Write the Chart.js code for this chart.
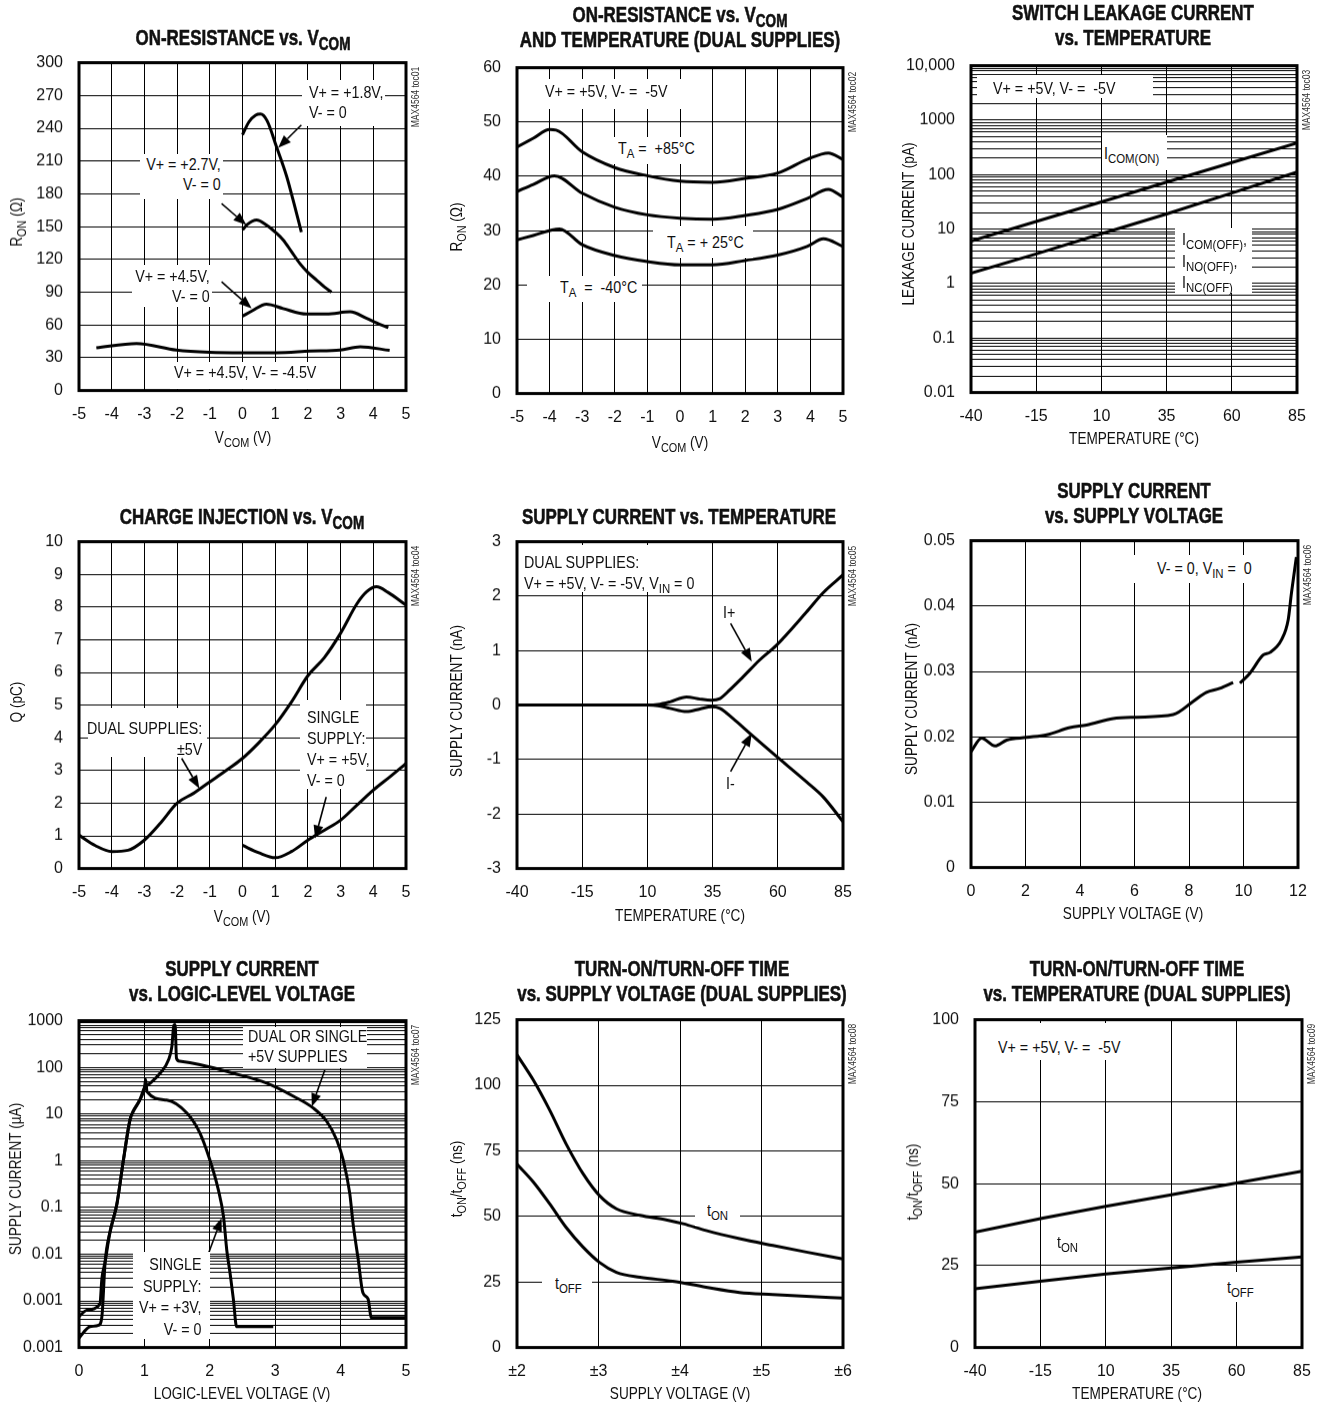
<!DOCTYPE html>
<html><head><meta charset="utf-8">
<script src="https://cdn.jsdelivr.net/npm/chart.js@4.4.1/dist/chart.umd.min.js"></script>
<style>
body{margin:0;background:#fff;width:1322px;height:1406px;position:relative;overflow:hidden;font-family:"Liberation Sans",Arial,sans-serif;color:#111}
canvas{position:absolute;z-index:1}
.bx{position:absolute;background:#fff;z-index:2}
.tx{position:absolute;font-size:17px;line-height:20px;white-space:nowrap;z-index:3;transform:scaleX(0.84);transform-origin:0 0}
.tx.r{transform-origin:100% 0;text-align:right}
.ti{position:absolute;font-weight:bold;font-size:22px;line-height:25px;text-align:center;white-space:nowrap;transform:translateX(-50%) scaleX(0.77);z-index:3;-webkit-text-stroke:0.6px #111}
.xt{position:absolute;font-size:17px;line-height:20px;white-space:nowrap;transform:translateX(-50%) scaleX(0.8);z-index:3}
.yt{position:absolute;font-size:17px;line-height:20px;white-space:nowrap;transform:translate(-50%,-50%) rotate(-90deg) scaleX(0.8);z-index:3}
.st{position:absolute;font-size:10px;line-height:11px;white-space:nowrap;transform:translate(-50%,-50%) rotate(-90deg) scaleX(0.85);z-index:3;color:#333}
sub{font-size:0.8em;vertical-align:-0.3em;line-height:0}
</style></head><body>
<script>
// ---------- DATA ----------
// Panel 1: On-resistance vs VCOM
const p1_x18 = [0, 0.2, 0.4, 0.55, 0.75, 1.04, 1.35, 1.55, 1.8];
const p1_y18 = [234, 246, 252, 253, 247, 223, 196, 174, 145];
const p1_x27 = [0, 0.15, 0.43, 0.73, 1.0, 1.24, 1.5, 1.76, 2.0, 2.27, 2.5, 2.72];
const p1_y27 = [147, 152, 156, 151.5, 145, 138, 127, 116, 108, 101, 95, 90];
const p1_x45 = [0, 0.3, 0.73, 1.24, 1.96, 2.57, 3.29, 3.8, 4.1, 4.46];
const p1_y45 = [68, 73, 79, 75, 70, 70, 72, 66, 62, 57.5];
const p1_xDual = [-4.47, -3.24, -2.02, -1, 0, 1.04, 2.06, 2.98, 3.6, 4.5];
const p1_yDual = [39, 43, 37, 35, 34.6, 34.6, 36, 37, 40, 36.7];
const p1_xTicks = [-5,-4,-3,-2,-1,0,1,2,3,4,5];
const p1_yTicks = [0,30,60,90,120,150,180,210,240,270,300];

// Panel 2: On-resistance vs VCOM and temperature
const p2_x85 = [-5,-4.5,-4,-3.8,-3,-2,-1,0,1,2,3,3.9,4.55,5];
const p2_y85 = [45.4,47,48.6,48.5,44.5,41.6,40.1,39.1,38.9,39.6,40.6,43.1,44.3,43.1];
const p2_x25 = [-5,-4.5,-3.85,-3,-2,-1,0,1,2,3,3.9,4.55,5];
const p2_y25 = [37.2,38.5,40.1,36.9,34.3,32.9,32.3,32.1,32.8,33.9,35.9,37.6,36.2];
const p2_xM40 = [-5,-4.5,-3.7,-3,-2,-1,0,1,2,3,3.9,4.4,5];
const p2_yM40 = [28.3,29.1,30.3,27.4,25.4,24.3,23.7,23.7,24.5,25.5,27.1,28.5,27.1];
const p2_xTicks = [-5,-4,-3,-2,-1,0,1,2,3,4,5];
const p2_yTicks = [0,10,20,30,40,50,60];

// Panel 3: Switch leakage current vs temperature
const p3_x = [-40,-15,10,35,60,85];
const p3_yOn = [6,13.8,31.6,73,166,383];
const p3_yOff = [1.55,3.5,8.2,19,46,112];
const p3_xTicks = [-40,-15,10,35,60,85];
const p3_yDecades = [0.01,0.1,1,10,100,1000,10000];
const p3_yLabels = ['0.01','0.1','1','10','100','1000','10,000'];

// Panel 4: Charge injection vs VCOM
const p4_xDual = [-5,-4.5,-4,-3.5,-3,-2.5,-2,-1.5,-1,-0.5,0,0.5,1,1.5,2,2.5,3,3.5,3.8,4.1,4.45,5];
const p4_yDual = [1.02,0.7,0.52,0.56,0.87,1.4,2.0,2.3,2.65,3.0,3.37,3.85,4.4,5.1,5.9,6.45,7.2,8.1,8.47,8.62,8.45,8.06];
const p4_xSingle = [0,0.5,1,1.5,2,2.5,3,3.5,4,4.5,5];
const p4_ySingle = [0.71,0.48,0.33,0.52,0.87,1.17,1.48,1.94,2.4,2.8,3.21];
const p4_xTicks = [-5,-4,-3,-2,-1,0,1,2,3,4,5];
const p4_yTicks = [0,1,2,3,4,5,6,7,8,9,10];

// Panel 5: Supply current vs temperature
const p5_xPlus = [-40,-15,10,14,18.7,25,30.2,34.6,37.8,41.6,46.7,53.1,59.5,71,77.3,85];
const p5_yPlus = [0,0,0,0.01,0.06,0.15,0.11,0.09,0.12,0.28,0.52,0.83,1.1,1.71,2.06,2.39];
const p5_xMinus = [-40,-15,10,14,18.7,25,30.2,34.6,37.8,42.9,49.3,58.2,71,77.3,85];
const p5_yMinus = [0,0,0,-0.01,-0.06,-0.12,-0.07,-0.03,-0.06,-0.25,-0.52,-0.89,-1.41,-1.68,-2.14];
const p5_xTicks = [-40,-15,10,35,60,85];
const p5_yTicks = [-3,-2,-1,0,1,2,3];

// Panel 6: Supply current vs supply voltage
const p6_x = [0,0.39,0.88,1.31,2.04,2.78,3.63,4.24,5.22,6.08,7.42,8.15,8.64,9.13,9.62,9.75,9.87,10.23,10.72,10.97,11.39,11.64,11.76,11.94];
const p6_y = [0.0177,0.0198,0.0186,0.0195,0.0199,0.0203,0.0214,0.0218,0.0228,0.0230,0.0234,0.0254,0.0268,0.0274,0.0283,null,0.0282,0.0297,0.0325,0.0329,0.0348,0.0379,0.042,0.0475];
const p6_xTicks = [0,2,4,6,8,10,12];
const p6_yTicks = [0,0.01,0.02,0.03,0.04,0.05];

// Panel 7: Supply current vs logic-level voltage
const p7_x5V = [0,0.12,0.32,0.35,0.4,0.47,0.58,0.68,0.78,0.83,0.93,1.0,1.09,1.24,1.37,1.42,1.45,1.47,1.49,1.54,1.85,2.36,2.87,3.28,3.58,3.79,3.94,4.04,4.14,4.19,4.27,4.34,4.42,4.47,5];
const p7_y5V = [0.00046,0.00063,0.00086,0.003,0.0069,0.028,0.12,1.05,7.6,11.5,20,36,46,75,146,280,800,820,158,135,114,75,46,24,13.5,6.9,2.8,1.04,0.2,0.046,0.0076,0.0015,0.0011,0.00044,0.00044];
const p7_x3V = [0,0.17,0.3,0.35,0.4,0.47,0.58,0.68,0.78,0.83,0.93,1.0,1.02,1.04,1.34,1.65,1.85,2.0,2.13,2.21,2.26,2.31,2.36,2.41,2.97];
const p7_y3V = [0.00016,0.00028,0.0003,0.00046,0.0069,0.028,0.12,1.05,7.6,11.5,20,36,55,30,20,10.5,3.9,1.05,0.24,0.063,0.012,0.0039,0.0011,0.00028,0.00028];
const p7_xTicks = [0,1,2,3,4,5];
const p7_yDecades = [0.0001,0.001,0.01,0.1,1,10,100,1000];
const p7_yLabels = ['0.001','0.001','0.01','0.1','1','10','100','1000'];

// Panel 8: Turn-on/turn-off time vs supply voltage
const p8_xOn = [2,2.2,2.4,2.6,2.81,3.01,3.22,3.51,3.83,4.04,4.32,4.73,5.14,5.55,6];
const p8_yOn = [111.6,102,90.6,77.8,66.3,58,52.9,50.4,48.7,47.2,44.6,41.5,38.9,36.4,33.8];
const p8_xOff = [2,2.2,2.4,2.6,2.81,3.01,3.22,3.51,3.91,4.32,4.73,5.14,5.55,6];
const p8_yOff = [69.9,63.1,54.8,45.9,38.3,32.5,28.7,26.8,25.3,23,21,20.2,19.5,18.9];
const p8_xTicks = [2,3,4,5,6];
const p8_xLabels = ['±2','±3','±4','±5','±6'];
const p8_yTicks = [0,25,50,75,100,125];

// Panel 9: Turn-on/turn-off time vs temperature
const p9_x = [-40,-15,10,35,60,85];
const p9_yOn = [35.2,39.3,43.1,46.6,50.2,53.8];
const p9_yOff = [17.9,20.2,22.4,24.3,26.0,27.6];
const p9_xTicks = [-40,-15,10,35,60,85];
const p9_yTicks = [0,25,50,75,100];

// ---------- RENDERING ----------
const FONT = '"Liberation Sans", Arial, sans-serif';
Chart.defaults.font.family = FONT;
Chart.defaults.color = '#111';

const framePlugin = {id:'frame', afterDraw(chart){
  const a = chart.chartArea, c = chart.ctx;
  c.save(); c.strokeStyle = '#000'; c.lineWidth = 3;
  c.strokeRect(a.left, a.top, a.right - a.left, a.bottom - a.top); c.restore();
}};
const arrowPlugin = {id:'arrows', afterDatasetsDraw(chart, args, opts){
  const list = (opts && opts.list) || [];
  const xs = chart.scales.x, ys = chart.scales.y, c = chart.ctx;
  c.save(); c.strokeStyle = '#000'; c.fillStyle = '#000'; c.lineWidth = 1.6;
  list.forEach(a => {
    const x1 = xs.getPixelForValue(a[0]), y1 = ys.getPixelForValue(a[1]);
    const x2 = xs.getPixelForValue(a[2]), y2 = ys.getPixelForValue(a[3]);
    const ang = Math.atan2(y2 - y1, x2 - x1), L = 13, W = 5;
    const bx = x2 - L * Math.cos(ang), by = y2 - L * Math.sin(ang);
    c.beginPath(); c.moveTo(x1, y1); c.lineTo(bx, by); c.stroke();
    c.beginPath(); c.moveTo(x2, y2);
    c.lineTo(bx + W * Math.sin(ang), by - W * Math.cos(ang));
    c.lineTo(bx - W * Math.sin(ang), by + W * Math.cos(ang));
    c.closePath(); c.fill();
  });
  c.restore();
}};

function logTicks(decades){
  const out = [];
  for (let i = 0; i < decades.length - 1; i++) for (let k = 1; k <= 9; k++) out.push(+(decades[i] * k).toPrecision(6));
  out.push(decades[decades.length - 1]);
  return out;
}
function linAxis(ticks, labels){
  return {min: ticks[0], max: ticks[ticks.length - 1], ticks: ticks,
    label: (v, i) => labels ? labels[i] : String(ticks[i])};
}
function logAxis(decades, labels){
  return {log: true, min: decades[0], max: decades[decades.length - 1], ticks: logTicks(decades),
    label: (v) => { const j = decades.findIndex(d => Math.abs(Math.log10(d) - Math.log10(v)) < 1e-6); return j >= 0 ? labels[j] : ''; }};
}

function panel(p){
  const YW = 70, PT = 14, PR = 26, XH = 44;
  const W = p.R - p.L, H = p.B - p.T;
  const cv = document.createElement('canvas');
  cv.width = YW + W + PR; cv.height = PT + H + XH;
  cv.style.left = (p.L - YW) + 'px'; cv.style.top = (p.T - PT) + 'px';
  document.body.appendChild(cv);
  const axis = (ax, isY) => ({
    type: ax.log ? 'logarithmic' : 'linear', min: ax.min, max: ax.max,
    afterBuildTicks(s){ s.ticks = ax.ticks.map(v => ({value: v})); },
    afterFit(s){ if (isY) s.width = YW; else s.height = XH; },
    ticks: {autoSkip: false, maxRotation: 0, minRotation: 0, padding: isY ? 16 : 14, color: '#111',
      font: {size: 16, family: FONT}, callback: (v, i) => ax.label(v, i)},
    grid: {color: '#000', lineWidth: 1, drawTicks: false},
    border: {display: false}
  });
  const ch = new Chart(cv, {
    type: 'line',
    data: {datasets: p.series.map(s => ({
      data: s.x.map((x, i) => ({x: x, y: s.y[i]})),
      borderColor: '#000', borderWidth: 3, pointRadius: 0, fill: false,
      tension: s.straight ? 0 : 0.4, cubicInterpolationMode: s.straight ? 'default' : 'monotone', spanGaps: false
    }))},
    options: {
      responsive: false, maintainAspectRatio: false, animation: false, events: [], devicePixelRatio: 1,
      layout: {padding: {top: PT, right: PR, left: 0, bottom: 0}},
      scales: {x: axis(p.x, false), y: axis(p.y, true)},
      plugins: {legend: {display: false}, tooltip: {enabled: false}, arrows: {list: p.arrows || []}}
    },
    plugins: [arrowPlugin, framePlugin]
  });
  // make the plot area exactly W x H at (L, T)
  for (let k = 0; k < 2; k++) {
    const a = ch.chartArea;
    const nw = ch.width + (W - (a.right - a.left)), nh = ch.height + (H - (a.bottom - a.top));
    if (nw !== ch.width || nh !== ch.height) ch.resize(nw, nh);
  }
  const a = ch.chartArea;
  cv.style.left = (p.L - a.left) + 'px'; cv.style.top = (p.T - a.top) + 'px';
  el('div', 'st', p.stamp, {left: (p.R + 9) + 'px', top: (p.T + 34) + 'px'});
}
function el(tag, cls, html, style){
  const d = document.createElement(tag); d.className = cls; d.innerHTML = html;
  Object.assign(d.style, style); document.body.appendChild(d); return d;
}
function box(x1, y1, x2, y2){ el('div', 'bx', '', {left: x1 + 'px', top: y1 + 'px', width: (x2 - x1) + 'px', height: (y2 - y1) + 'px'}); }
function txt(html, align, x, y, lh){
  const s = {top: y + 'px'};
  if (align === 'r') s.right = (1322 - x) + 'px'; else s.left = x + 'px';
  if (lh) s.lineHeight = lh + 'px';
  el('div', align === 'r' ? 'tx r' : 'tx', html, s);
}
function title(html, cx, top){ el('div', 'ti', html, {left: cx + 'px', top: top + 'px'}); }
function xtitle(html, cx, top){ el('div', 'xt', html, {left: cx + 'px', top: top + 'px'}); }
function ytitle(html, cx, cy){ el('div', 'yt', html, {left: cx + 'px', top: cy + 'px'}); }

// Panel 1
panel({L: 79, T: 63, R: 406, B: 390, stamp: 'MAX4564 toc01',
  x: linAxis(p1_xTicks), y: linAxis(p1_yTicks),
  series: [{x: p1_x18, y: p1_y18}, {x: p1_x27, y: p1_y27}, {x: p1_x45, y: p1_y45}, {x: p1_xDual, y: p1_yDual}],
  arrows: [[1.8, 243, 1.09, 222], [-0.64, 171, 0.12, 151.5], [-0.64, 99.5, 0.28, 75]]});
title('ON-RESISTANCE vs. V<sub>COM</sub>', 243, 25);
xtitle('V<sub>COM</sub> (V)', 243, 428);
ytitle('R<sub>ON</sub> (Ω)', 17, 222);
box(302, 80, 385, 126); txt('V+ = +1.8V,<br>V- = 0', 'l', 309, 83);
box(140, 154, 223, 199); txt('V+ = +2.7V,<br>V- = 0', 'r', 221, 155);
box(132, 265, 212, 307); txt('V+ = +4.5V,<br>V- = 0', 'r', 210, 267);
box(170, 362, 320, 389); txt('V+ = +4.5V, V- = -4.5V', 'l', 174, 363);

// Panel 2
panel({L: 517, T: 68, R: 843, B: 393, stamp: 'MAX4564 toc02',
  x: linAxis(p2_xTicks), y: linAxis(p2_yTicks),
  series: [{x: p2_x85, y: p2_y85}, {x: p2_x25, y: p2_y25}, {x: p2_xM40, y: p2_yM40}]});
title('ON-RESISTANCE vs. V<sub>COM</sub><br>AND TEMPERATURE (DUAL SUPPLIES)', 680, 2);
xtitle('V<sub>COM</sub> (V)', 680, 433);
ytitle('R<sub>ON</sub> (Ω)', 457, 227);
box(540, 79, 690, 109); txt('V+ = +5V, V- = &nbsp;-5V', 'l', 545, 82);
box(612, 137, 697, 164); txt('T<sub>A</sub> = &nbsp;+85°C', 'l', 618, 139);
box(653, 226, 753, 258); txt('T<sub>A</sub> = + 25°C', 'l', 667, 233);
box(527, 276, 642, 302); txt('T<sub>A</sub> &nbsp;= &nbsp;-40°C', 'l', 560, 278);

// Panel 3
panel({L: 971, T: 66, R: 1297, B: 392, stamp: 'MAX4564 toc03',
  x: linAxis(p3_xTicks), y: logAxis(p3_yDecades, p3_yLabels),
  series: [{x: p3_x, y: p3_yOn, straight: true}, {x: p3_x, y: p3_yOff, straight: true}]});
title('SWITCH LEAKAGE CURRENT<br>vs. TEMPERATURE', 1133, 0);
xtitle('TEMPERATURE (°C)', 1134, 429);
ytitle('LEAKAGE CURRENT (pA)', 909, 224);
box(977, 75, 1153, 98); txt('V+ = +5V, V- = &nbsp;-5V', 'l', 993, 79);
box(1102, 135, 1167, 170); txt('I<sub>COM(ON)</sub>', 'l', 1104, 144);
box(1175, 228, 1252, 293); txt('I<sub>COM(OFF)</sub>,<br>I<sub>NO(OFF)</sub>,<br>I<sub>NC(OFF)</sub>', 'l', 1182, 229, 21.5);

// Panel 4
panel({L: 79, T: 542, R: 406, B: 868, stamp: 'MAX4564 toc04',
  x: linAxis(p4_xTicks), y: linAxis(p4_yTicks),
  series: [{x: p4_xDual, y: p4_yDual}, {x: p4_xSingle, y: p4_ySingle}],
  arrows: [[-1.86, 3.37, -1.32, 2.45], [2.56, 2.19, 2.22, 0.92]]});
title('CHARGE INJECTION vs. V<sub>COM</sub>', 242, 504);
xtitle('V<sub>COM</sub> (V)', 242, 907);
ytitle('Q (pC)', 17, 702);
box(88, 708, 207, 757); txt('DUAL SUPPLIES:<br>±5V', 'r', 202, 718, 21);
box(300, 700, 366, 789); txt('SINGLE<br>SUPPLY:<br>V+ = +5V,<br>V- = 0', 'l', 307, 707, 21);

// Panel 5
panel({L: 517, T: 542, R: 843, B: 868, stamp: 'MAX4564 toc05',
  x: linAxis(p5_xTicks), y: linAxis(p5_yTicks),
  series: [{x: p5_xPlus, y: p5_yPlus}, {x: p5_xMinus, y: p5_yMinus}],
  arrows: [[41.9, 1.5, 50, 0.8], [41.9, -1.22, 50, -0.52]]});
title('SUPPLY CURRENT vs. TEMPERATURE', 679, 504);
xtitle('TEMPERATURE (°C)', 680, 906);
ytitle('SUPPLY CURRENT (nA)', 457, 701);
box(520, 545, 700, 592); txt('DUAL SUPPLIES:<br>V+ = +5V, V- = -5V, V<sub>IN</sub> = 0', 'l', 524, 552, 21);
txt('I+', 'l', 723, 603);
txt('I-', 'l', 726, 774);

// Panel 6
panel({L: 971, T: 541, R: 1298, B: 867, stamp: 'MAX4564 toc06',
  x: linAxis(p6_xTicks), y: linAxis(p6_yTicks),
  series: [{x: p6_x, y: p6_y}]});
title('SUPPLY CURRENT<br>vs. SUPPLY VOLTAGE', 1134, 478);
xtitle('SUPPLY VOLTAGE (V)', 1133, 904);
ytitle('SUPPLY CURRENT (nA)', 912, 699);
box(1131, 555, 1256, 583); txt('V- = 0, V<sub>IN</sub> = &nbsp;0', 'l', 1157, 559);

// Panel 7
panel({L: 79, T: 1021, R: 406, B: 1347, stamp: 'MAX4564 toc07',
  x: linAxis(p7_xTicks), y: logAxis(p7_yDecades, p7_yLabels),
  series: [{x: p7_x5V, y: p7_y5V}, {x: p7_x3V, y: p7_y3V}],
  arrows: [[3.76, 89, 3.56, 14.5], [1.98, 0.0104, 2.18, 0.059]]});
title('SUPPLY CURRENT<br>vs. LOGIC-LEVEL VOLTAGE', 242, 956);
xtitle('LOGIC-LEVEL VOLTAGE (V)', 242, 1384);
ytitle('SUPPLY CURRENT (µA)', 16, 1179);
box(243, 1027, 367, 1068); txt('DUAL OR SINGLE<br>+5V SUPPLIES', 'l', 248, 1027, 20);
box(133, 1252, 210, 1339); txt('SINGLE<br>SUPPLY:<br>V+ = +3V,<br>V- = 0', 'r', 202, 1254, 21.5);

// Panel 8
panel({L: 517, T: 1020, R: 843, B: 1347, stamp: 'MAX4564 toc08',
  x: linAxis(p8_xTicks, p8_xLabels), y: linAxis(p8_yTicks),
  series: [{x: p8_xOn, y: p8_yOn}, {x: p8_xOff, y: p8_yOff}]});
title('TURN-ON/TURN-OFF TIME<br>vs. SUPPLY VOLTAGE (DUAL SUPPLIES)', 682, 956);
xtitle('SUPPLY VOLTAGE (V)', 680, 1384);
ytitle('t<sub>ON</sub>/t<sub>OFF</sub> (ns)', 457, 1179);
box(695, 1199, 740, 1226); txt('t<sub>ON</sub>', 'l', 707, 1201);
box(542, 1271, 592, 1298); txt('t<sub>OFF</sub>', 'l', 555, 1274);

// Panel 9
panel({L: 975, T: 1020, R: 1302, B: 1347, stamp: 'MAX4564 toc09',
  x: linAxis(p9_xTicks), y: linAxis(p9_yTicks),
  series: [{x: p9_x, y: p9_yOn, straight: true}, {x: p9_x, y: p9_yOff, straight: true}]});
title('TURN-ON/TURN-OFF TIME<br>vs. TEMPERATURE (DUAL SUPPLIES)', 1137, 956);
xtitle('TEMPERATURE (°C)', 1137, 1384);
ytitle('t<sub>ON</sub>/t<sub>OFF</sub> (ns)', 913, 1182);
box(990, 1023, 1135, 1060); txt('V+ = +5V, V- = &nbsp;-5V', 'l', 998, 1038);
txt('t<sub>ON</sub>', 'l', 1057, 1233);
box(1215, 1272, 1262, 1302); txt('t<sub>OFF</sub>', 'l', 1227, 1278);
</script>
</body></html>
